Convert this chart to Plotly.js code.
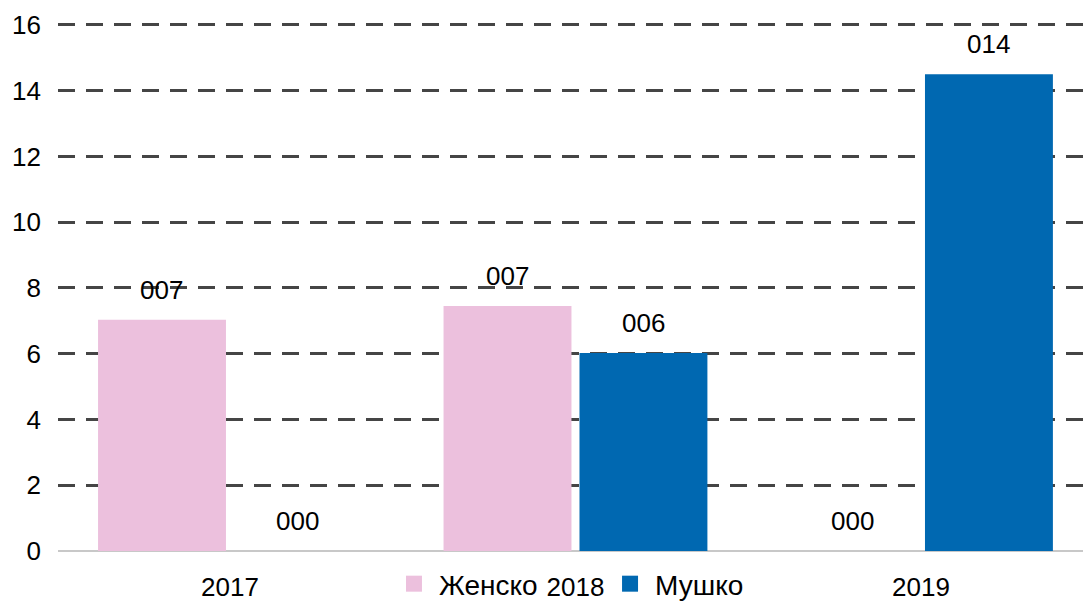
<!DOCTYPE html>
<html><head><meta charset="utf-8">
<script src="https://cdn.plot.ly/plotly-3.0.1.min.js"></script>
<style>body{margin:0}</style>
</head><body>
<div id="chart" style="width:1083px;height:601px"></div>
<script>
const categories = ["2017", "2018", "2019"];
const femaleValues = [7.03, 7.45, 0];
const maleValues = [0, 6.02, 14.5];
const femaleLabels = ["007", "007", "000"];
const maleLabels = ["000", "006", "014"];
const seriesNames = ["Женско", "Мушко"];
const seriesColors = ["#ECC0DD", "#0068B1"];
const yTicks = [0, 2, 4, 6, 8, 10, 12, 14, 16];

const font = {family: "Liberation Sans, Arial, sans-serif", size: 26, color: "#000"};
const legendFont = {family: "Liberation Sans, Arial, sans-serif", size: 28, color: "#000"};

const traces = [
  {type: "bar", name: seriesNames[0], x: categories, y: femaleValues, showlegend: false,
   marker: {color: seriesColors[0]}, hoverinfo: "none"},
  {type: "bar", name: seriesNames[1], x: categories, y: maleValues, showlegend: false,
   marker: {color: seriesColors[1]}, hoverinfo: "none"},
  {type: "scatter", mode: "markers", name: seriesNames[0], x: [categories[0]], y: [null],
   marker: {color: seriesColors[0], symbol: "square", size: 18}, legend: "legend", hoverinfo: "none"},
  {type: "scatter", mode: "markers", name: seriesNames[1], x: [categories[0]], y: [null],
   marker: {color: seriesColors[1], symbol: "square", size: 18}, legend: "legend2", hoverinfo: "none"}
];

const annotations = [];
[[femaleValues, femaleLabels, -1], [maleValues, maleLabels, 1]].forEach(([vals, labs, side]) => {
  vals.forEach((v, i) => {
    annotations.push({
      x: i, y: v, xref: "x", yref: "y", text: labs[i],
      showarrow: false, yanchor: "middle", yshift: 30,
      xshift: side * 68,
      font: font
    });
  });
});

const legendCommon = {orientation: "h", yanchor: "middle", y: -0.062, xanchor: "left",
  font: legendFont, bgcolor: "rgba(0,0,0,0)", itemwidth: 40, borderwidth: 0};

const layout = {
  width: 1083, height: 601,
  margin: {l: 58, r: 0, t: 19, b: 50, autoexpand: false},
  paper_bgcolor: "#fff", plot_bgcolor: "#fff",
  font: font,
  barmode: "group", bargap: 0.213, bargroupgap: 0.059,
  showlegend: true,
  legend: Object.assign({}, legendCommon, {x: 0.3229}),
  legend2: Object.assign({}, legendCommon, {x: 0.5337}),
  xaxis: {type: "category", categoryorder: "array", categoryarray: categories,
          range: [-0.4978, 2.469], autorange: false,
          showgrid: false, zeroline: false, showline: false,
          ticks: "", tickfont: font, ticklabelstandoff: 18},
  yaxis: {range: [0, 16.18], autorange: false, tickvals: yTicks,
          showgrid: true, gridcolor: "#454545", gridwidth: 3, griddash: "17px,11px",
          zeroline: true, zerolinecolor: "#c8c8c8", zerolinewidth: 2,
          showline: false, ticks: "", tickfont: font, ticklabelstandoff: 16},
  annotations: annotations
};

Plotly.newPlot("chart", traces, layout, {displayModeBar: false});
</script>
</body></html>
